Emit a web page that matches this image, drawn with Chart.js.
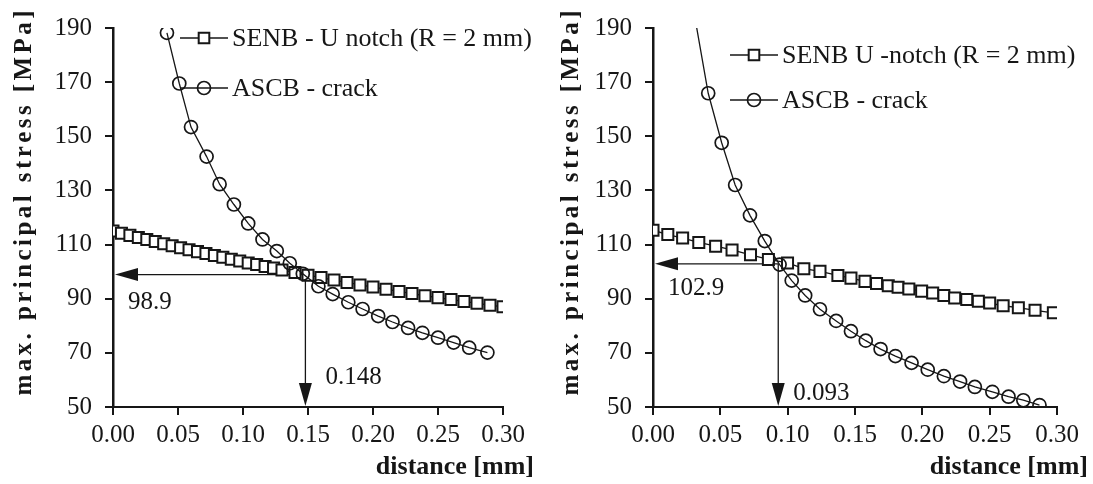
<!DOCTYPE html>
<html>
<head>
<meta charset="utf-8">
<script src="https://cdn.jsdelivr.net/npm/chart.js@4.4.1/dist/chart.umd.min.js"></script>
<style>
  html, body { margin: 0; padding: 0; background: #fff; }
  #wrap { position: relative; width: 1093px; height: 484px; overflow: hidden; }
  #leftChart { position: absolute; left: 0; top: 0; }
  #rightChart { position: absolute; left: 545px; top: 0; }
</style>
</head>
<body>
<div id="wrap">
  <canvas id="leftChart" width="540" height="484"></canvas>
  <canvas id="rightChart" width="548" height="484"></canvas>
</div>
<script>
// axis ticks
const xTickLabels = ['0.00', '0.05', '0.10', '0.15', '0.20', '0.25', '0.30'];
const yTickLabels = ['50', '70', '90', '110', '130', '150', '170', '190'];

// left panel: SENB - U notch (R = 2 mm)
const senbLeftX = [0, 0.0065, 0.013, 0.0195, 0.026, 0.0325, 0.039, 0.0455, 0.052, 0.0585,
  0.065, 0.0715, 0.078, 0.0845, 0.091, 0.0975, 0.104, 0.1105, 0.117, 0.1235, 0.13,
  0.14, 0.15, 0.16, 0.17, 0.18, 0.19, 0.20, 0.21, 0.22, 0.23, 0.24, 0.25, 0.26, 0.27, 0.28, 0.29, 0.30];
const senbLeftY = [115.0, 114.2, 113.4, 112.6, 111.9, 111.1, 110.3, 109.6, 108.8, 108.1,
  107.4, 106.7, 106.0, 105.3, 104.6, 103.9, 103.2, 102.6, 101.9, 101.3, 100.6,
  99.7, 98.7, 97.8, 96.9, 96.0, 95.1, 94.3, 93.5, 92.7, 91.9, 91.1, 90.4, 89.7, 89.0, 88.3, 87.6, 87.0];

// left panel: ASCB - crack
const ascbLeftX = [0.0415, 0.051, 0.060, 0.072, 0.082, 0.093, 0.104, 0.115, 0.126, 0.136, 0.146,
  0.158, 0.169, 0.181, 0.192, 0.204, 0.215, 0.227, 0.238, 0.250, 0.262, 0.274, 0.288];
const ascbLeftY = [188.2, 169.5, 153.4, 142.5, 132.3, 124.8, 117.8, 111.9, 107.6, 103.1, 99.2,
  94.6, 91.7, 88.7, 86.2, 83.6, 81.4, 79.2, 77.4, 75.6, 73.8, 71.9, 70.1];

// left panel: intersection [distance, stress]
const crossLeft = [0.148, 98.9];

// right panel: SENB U -notch (R = 2 mm)
const senbRightX = [0, 0.011, 0.022, 0.034, 0.0465, 0.0587, 0.0724, 0.0857, 0.0999, 0.112,
  0.124, 0.1373, 0.147, 0.1574, 0.166, 0.1747, 0.182, 0.190, 0.1995, 0.2077, 0.216, 0.224,
  0.233, 0.2416, 0.250, 0.260, 0.2713, 0.2837, 0.2973];
const senbRightY = [115.3, 113.7, 112.4, 110.8, 109.4, 108.0, 106.2, 104.5, 103.2, 101.1,
  100.1, 98.6, 97.6, 96.4, 95.6, 94.8, 94.2, 93.6, 92.8, 92.1, 91.2, 90.3,
  89.7, 89.1, 88.4, 87.4, 86.7, 85.7, 84.8];

// right panel: ASCB - crack (first node lies above the plotted range)
const ascbRightX = [0.030, 0.041, 0.051, 0.061, 0.072, 0.083, 0.094, 0.103, 0.113, 0.124, 0.136,
  0.147, 0.158, 0.169, 0.180, 0.192, 0.204, 0.216, 0.228, 0.239, 0.252, 0.264, 0.275, 0.287];
const ascbRightY = [197.0, 165.9, 147.6, 132.0, 120.8, 111.3, 102.6, 96.7, 91.2, 86.1, 81.8,
  78.0, 74.5, 71.4, 68.8, 66.3, 63.8, 61.4, 59.4, 57.4, 55.6, 53.8, 52.5, 50.7];

const crossRight = [0.093, 102.9];

const INK = '#161616';
const SERIF = '"Liberation Serif", "Times New Roman", serif';
const Y_MAX = Number(yTickLabels[yTickLabels.length - 1]);
const Y_MIN = Number(yTickLabels[0]);

function toPoints(xs, ys) {
  return xs.map((x, i) => ({ x: x, y: ys[i] }));
}

// text spread out along its length (rotated axis title)
function spacedText(ctx, text, length) {
  const chars = [...text];
  const widths = chars.map(c => ctx.measureText(c).width);
  const natural = widths.reduce((a, b) => a + b, 0);
  const gap = (length - natural) / (chars.length - 1);
  let pos = -length / 2;
  ctx.textAlign = 'left';
  chars.forEach((c, i) => {
    ctx.fillText(c, pos, 0);
    pos += widths[i] + gap;
  });
}

function arrowHead(ctx, tipX, tipY, dx, dy, len, half) {
  // dx,dy: unit direction pointing toward the tip
  const bx = tipX - dx * len, by = tipY - dy * len;
  ctx.beginPath();
  ctx.moveTo(tipX, tipY);
  ctx.lineTo(bx - dy * half, by + dx * half);
  ctx.lineTo(bx + dy * half, by - dx * half);
  ctx.closePath();
  ctx.fill();
}

const figureExtras = {
  id: 'figureExtras',
  beforeDatasetsDraw(chart, args, opts) {
    const { ctx, chartArea, scales } = chart;
    const px = scales.x.getPixelForValue(opts.cross[0]);
    const py = scales.y.getPixelForValue(opts.cross[1]);
    ctx.save();
    ctx.strokeStyle = INK;
    ctx.fillStyle = INK;
    ctx.lineWidth = 1.3;
    ctx.beginPath();
    ctx.moveTo(px, py);
    ctx.lineTo(chartArea.left + 10, py);
    ctx.moveTo(px, py);
    ctx.lineTo(px, chartArea.bottom - 10);
    ctx.stroke();
    arrowHead(ctx, chartArea.left + 2, py, -1, 0, 23, 6.5);
    arrowHead(ctx, px, chartArea.bottom - 1, 0, 1, 23, 6.5);
    ctx.restore();
  },
  afterDraw(chart, args, opts) {
    const { ctx, chartArea, scales } = chart;
    const px = scales.x.getPixelForValue(opts.cross[0]);
    const py = scales.y.getPixelForValue(opts.cross[1]);
    ctx.save();
    ctx.fillStyle = INK;
    ctx.textBaseline = 'middle';

    // intersection values
    ctx.font = '25px ' + SERIF;
    ctx.textAlign = 'left';
    ctx.fillText(opts.cross[1].toFixed(1), chartArea.left + opts.yLabel[0], py + opts.yLabel[1]);
    ctx.fillText(opts.cross[0].toFixed(3), px + opts.xLabel[0], chartArea.bottom + opts.xLabel[1]);

    // legend: line + marker + text
    chart.data.datasets.forEach((ds, i) => {
      const ly = opts.legend.y + i * opts.legend.rowGap;
      const lx = opts.legend.x;
      ctx.strokeStyle = ds.borderColor;
      ctx.lineWidth = ds.borderWidth;
      ctx.beginPath();
      ctx.moveTo(lx, ly);
      ctx.lineTo(lx + 48, ly);
      ctx.stroke();
      ctx.fillStyle = ds.pointBackgroundColor;
      ctx.strokeStyle = ds.pointBorderColor;
      ctx.lineWidth = ds.pointBorderWidth;
      Chart.helpers.drawPoint(ctx, {
        pointStyle: ds.pointStyle, radius: ds.legendRadius,
        borderWidth: ds.pointBorderWidth, rotation: 0
      }, lx + 24, ly);
      ctx.fillStyle = INK;
      ctx.font = '26px ' + SERIF;
      ctx.textAlign = 'left';
      ctx.fillText(ds.label, lx + 52, ly + 1);
    });

    // axis titles
    ctx.font = 'bold 26px ' + SERIF;
    ctx.textAlign = 'right';
    ctx.fillText('distance [mm]', chartArea.right + 31, 467);

    ctx.save();
    ctx.translate(opts.yTitleX, 203);
    ctx.rotate(-Math.PI / 2);
    ctx.font = 'bold 25px ' + SERIF;
    spacedText(ctx, 'max. principal stress [MPa]', 385);
    ctx.restore();

    ctx.restore();
  }
};

function buildChart(canvasId, series, extras, axisWidth) {
  const datasets = [
    {
      label: series.senbLabel,
      data: toPoints(series.senbX, series.senbY),
      showLine: true,
      borderColor: INK,
      borderWidth: 1.3,
      pointStyle: 'rect',
      pointRadius: 7.8,
      legendRadius: 7.5,
      pointBorderWidth: 2,
      pointBorderColor: INK,
      pointBackgroundColor: '#ffffff',
      order: 2
    },
    {
      label: 'ASCB - crack',
      data: toPoints(series.ascbX, series.ascbY),
      showLine: true,
      borderColor: INK,
      borderWidth: 1.3,
      pointStyle: 'circle',
      pointRadius: ctx => (ctx.raw && ctx.raw.y > Y_MAX ? 0 : 6.5),
      legendRadius: 6.5,
      pointBorderWidth: 1.7,
      pointBorderColor: INK,
      pointBackgroundColor: 'rgba(0,0,0,0)',
      order: 1
    }
  ];

  return new Chart(document.getElementById(canvasId), {
    type: 'scatter',
    data: { datasets: datasets },
    plugins: [figureExtras],
    options: {
      responsive: false,
      animation: false,
      events: [],
      layout: { padding: { top: 24, right: extras.padRight, left: 0, bottom: 0 } },
      plugins: {
        legend: { display: false },
        tooltip: { enabled: false },
        figureExtras: extras
      },
      scales: {
        x: {
          type: 'linear',
          min: 0,
          max: Number(xTickLabels[xTickLabels.length - 1]),
          afterBuildTicks: s => { s.ticks = xTickLabels.map(t => ({ value: Number(t) })); },
          afterFit: s => { s.height = 77; },
          border: { display: true, color: INK, width: 2 },
          grid: { display: true, drawOnChartArea: false, drawTicks: true, tickLength: 8, color: INK, lineWidth: 2 },
          ticks: {
            color: INK,
            padding: 5,
            maxRotation: 0,
            font: { family: SERIF, size: 25 },
            callback: (v, i) => xTickLabels[i]
          }
        },
        y: {
          type: 'linear',
          min: Y_MIN,
          max: Y_MAX,
          afterBuildTicks: s => { s.ticks = yTickLabels.map(t => ({ value: Number(t) })); },
          afterFit: s => { s.width = axisWidth; },
          border: { display: true, color: INK, width: 2.5 },
          grid: { display: true, drawOnChartArea: false, drawTicks: true, tickLength: 8, color: INK, lineWidth: 2 },
          ticks: {
            color: INK,
            padding: 13,
            font: { family: SERIF, size: 25 },
            callback: (v, i) => yTickLabels[i]
          }
        }
      }
    }
  });
}

buildChart('leftChart', {
  senbLabel: 'SENB - U notch (R = 2 mm)',
  senbX: senbLeftX, senbY: senbLeftY,
  ascbX: ascbLeftX, ascbY: ascbLeftY
}, {
  cross: crossLeft,
  padRight: 37,
  yLabel: [15, 28],
  xLabel: [20, -30],
  legend: { x: 180, y: 38, rowGap: 50 },
  yTitleX: 25
}, 113);

buildChart('rightChart', {
  senbLabel: 'SENB U -notch (R = 2 mm)',
  senbX: senbRightX, senbY: senbRightY,
  ascbX: ascbRightX, ascbY: ascbRightY
}, {
  cross: crossRight,
  padRight: 36,
  yLabel: [15, 25],
  xLabel: [15, -14],
  legend: { x: 185, y: 55, rowGap: 45 },
  yTitleX: 27
}, 108);
</script>
</body>
</html>
